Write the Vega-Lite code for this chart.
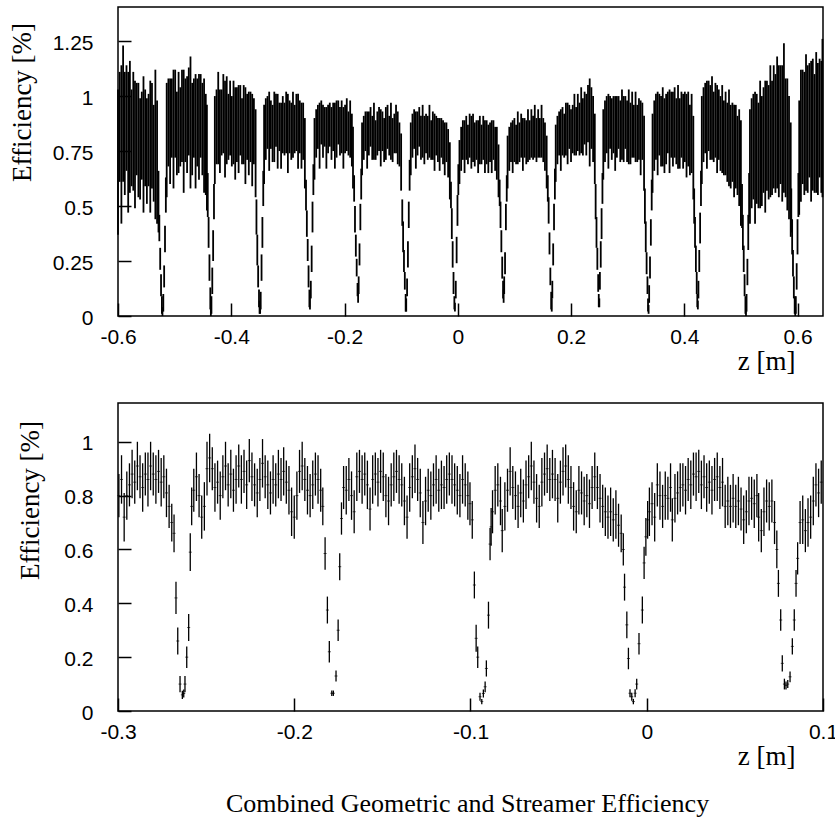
{
"$schema":"https://vega.github.io/schema/vega-lite/v6.json",
"padding":{"left":7,"top":6,"right":5,"bottom":5},
"background":"white",
"bounds":"flush",
"spacing":87,
"config":{
"locale":{"number":{"decimal":".","thousands":",","grouping":[3],"currency":["$",""],"minus":"-"}},
"view":{"stroke":"black","strokeWidth":1.5},
"axis":{"domain":false,"grid":false,"tickColor":"black","tickSize":-13,"tickWidth":1.5,"labelFont":"Liberation Sans","labelFontSize":21,"labelColor":"black","labelFlush":false,"labelOverlap":false,"titleFont":"Liberation Serif","titleFontSize":27,"titleFontWeight":"normal","titleColor":"black"}
},
"title":{"text":"Combined Geometric and Streamer Efficiency","orient":"bottom","anchor":"middle","frame":"group","dx":-3,"font":"Liberation Serif","fontSize":26,"fontWeight":"normal","offset":21,"color":"black"},
"datasets":{
"top":[
{"z":-0.600,"e":0.70,"d":0.33},{"z":-0.597,"e":0.86,"d":0.25},{"z":-0.594,"e":0.78,"d":0.36},{"z":-0.591,"e":0.92,"d":0.31},{"z":-0.588,"e":0.83,"d":0.28},{"z":-0.585,"e":0.90,"d":0.24},{"z":-0.582,"e":0.79,"d":0.32},{"z":-0.579,"e":0.86,"d":0.30},{"z":-0.576,"e":0.81,"d":0.22},{"z":-0.573,"e":0.84,"d":0.27},{"z":-0.570,"e":0.78,"d":0.29},{"z":-0.567,"e":0.85,"d":0.21},{"z":-0.564,"e":0.80,"d":0.26},{"z":-0.561,"e":0.76,"d":0.23},{"z":-0.558,"e":0.82,"d":0.20},{"z":-0.555,"e":0.78,"d":0.31},{"z":-0.552,"e":0.81,"d":0.22},{"z":-0.549,"e":0.75,"d":0.24},{"z":-0.546,"e":0.80,"d":0.21},{"z":-0.543,"e":0.77,"d":0.30},{"z":-0.540,"e":0.82,"d":0.24},{"z":-0.537,"e":0.74,"d":0.22},{"z":-0.534,"e":0.78,"d":0.34},{"z":-0.531,"e":0.70,"d":0.28},
{"z":-0.5285,"e":0.52,"d":0.14},{"z":-0.527,"e":0.40,"d":0.06},{"z":-0.5255,"e":0.26,"d":0.05},{"z":-0.524,"e":0.14,"d":0.05},{"z":-0.5225,"e":0.05,"d":0.04},{"z":-0.5215,"e":0.02,"d":0.02},{"z":-0.520,"e":0.06,"d":0.04},{"z":-0.5185,"e":0.18,"d":0.05},{"z":-0.517,"e":0.35,"d":0.06},{"z":-0.5155,"e":0.55,"d":0.08},
{"z":-0.514,"e":0.80,"d":0.26},{"z":-0.511,"e":0.88,"d":0.20},{"z":-0.508,"e":0.84,"d":0.24},{"z":-0.505,"e":0.90,"d":0.18},{"z":-0.502,"e":0.85,"d":0.27},{"z":-0.499,"e":0.92,"d":0.20},{"z":-0.496,"e":0.83,"d":0.19},{"z":-0.493,"e":0.88,"d":0.23},{"z":-0.490,"e":0.86,"d":0.18},{"z":-0.487,"e":0.91,"d":0.21},{"z":-0.484,"e":0.84,"d":0.28},{"z":-0.481,"e":0.89,"d":0.19},{"z":-0.478,"e":0.87,"d":0.22},{"z":-0.475,"e":0.93,"d":0.20},{"z":-0.472,"e":0.88,"d":0.30},{"z":-0.469,"e":0.85,"d":0.21},{"z":-0.466,"e":0.90,"d":0.18},{"z":-0.463,"e":0.84,"d":0.26},{"z":-0.460,"e":0.88,"d":0.20},{"z":-0.457,"e":0.86,"d":0.24},{"z":-0.454,"e":0.91,"d":0.19},{"z":-0.451,"e":0.85,"d":0.21},{"z":-0.448,"e":0.82,"d":0.26},{"z":-0.445,"e":0.78,"d":0.23},{"z":-0.443,"e":0.72,"d":0.24},
{"z":-0.4415,"e":0.55,"d":0.10},{"z":-0.440,"e":0.38,"d":0.07},{"z":-0.4385,"e":0.22,"d":0.06},{"z":-0.437,"e":0.08,"d":0.05},{"z":-0.436,"e":0.02,"d":0.02},{"z":-0.435,"e":0.05,"d":0.04},{"z":-0.4335,"e":0.16,"d":0.06},{"z":-0.432,"e":0.32,"d":0.07},{"z":-0.4305,"e":0.52,"d":0.08},
{"z":-0.429,"e":0.80,"d":0.20},{"z":-0.426,"e":0.86,"d":0.17},{"z":-0.423,"e":0.90,"d":0.21},{"z":-0.420,"e":0.84,"d":0.19},{"z":-0.417,"e":0.88,"d":0.15},{"z":-0.414,"e":0.92,"d":0.18},{"z":-0.411,"e":0.85,"d":0.22},{"z":-0.408,"e":0.89,"d":0.20},{"z":-0.405,"e":0.86,"d":0.15},{"z":-0.402,"e":0.90,"d":0.17},{"z":-0.399,"e":0.84,"d":0.16},{"z":-0.396,"e":0.88,"d":0.19},{"z":-0.393,"e":0.83,"d":0.21},{"z":-0.390,"e":0.87,"d":0.17},{"z":-0.387,"e":0.85,"d":0.20},{"z":-0.384,"e":0.89,"d":0.16},{"z":-0.381,"e":0.84,"d":0.15},{"z":-0.378,"e":0.87,"d":0.18},{"z":-0.375,"e":0.82,"d":0.22},{"z":-0.372,"e":0.86,"d":0.15},{"z":-0.369,"e":0.83,"d":0.19},{"z":-0.366,"e":0.86,"d":0.16},{"z":-0.363,"e":0.80,"d":0.21},{"z":-0.360,"e":0.84,"d":0.15},{"z":-0.357,"e":0.74,"d":0.20},
{"z":-0.3555,"e":0.45,"d":0.08},{"z":-0.354,"e":0.30,"d":0.07},{"z":-0.3525,"e":0.18,"d":0.05},{"z":-0.351,"e":0.08,"d":0.04},{"z":-0.350,"e":0.04,"d":0.03},{"z":-0.349,"e":0.03,"d":0.02},{"z":-0.348,"e":0.07,"d":0.04},{"z":-0.3465,"e":0.22,"d":0.06},{"z":-0.345,"e":0.38,"d":0.07},{"z":-0.3435,"e":0.58,"d":0.08},
{"z":-0.342,"e":0.78,"d":0.18},{"z":-0.339,"e":0.85,"d":0.14},{"z":-0.336,"e":0.88,"d":0.12},{"z":-0.333,"e":0.84,"d":0.18},{"z":-0.330,"e":0.87,"d":0.11},{"z":-0.327,"e":0.83,"d":0.13},{"z":-0.324,"e":0.86,"d":0.16},{"z":-0.321,"e":0.89,"d":0.12},{"z":-0.318,"e":0.84,"d":0.17},{"z":-0.315,"e":0.86,"d":0.11},{"z":-0.312,"e":0.82,"d":0.15},{"z":-0.309,"e":0.87,"d":0.13},{"z":-0.306,"e":0.85,"d":0.12},{"z":-0.303,"e":0.88,"d":0.14},{"z":-0.300,"e":0.83,"d":0.18},{"z":-0.297,"e":0.86,"d":0.12},{"z":-0.294,"e":0.84,"d":0.13},{"z":-0.291,"e":0.87,"d":0.15},{"z":-0.288,"e":0.85,"d":0.11},{"z":-0.285,"e":0.88,"d":0.13},{"z":-0.282,"e":0.84,"d":0.17},{"z":-0.279,"e":0.86,"d":0.12},{"z":-0.276,"e":0.82,"d":0.15},{"z":-0.273,"e":0.84,"d":0.13},{"z":-0.270,"e":0.74,"d":0.16},
{"z":-0.268,"e":0.55,"d":0.07},{"z":-0.2665,"e":0.42,"d":0.06},{"z":-0.265,"e":0.30,"d":0.05},{"z":-0.2635,"e":0.18,"d":0.05},{"z":-0.262,"e":0.08,"d":0.04},{"z":-0.261,"e":0.06,"d":0.03},{"z":-0.2595,"e":0.12,"d":0.04},{"z":-0.258,"e":0.26,"d":0.06},{"z":-0.2565,"e":0.45,"d":0.07},{"z":-0.255,"e":0.62,"d":0.07},
{"z":-0.253,"e":0.76,"d":0.14},{"z":-0.250,"e":0.83,"d":0.11},{"z":-0.247,"e":0.86,"d":0.10},{"z":-0.244,"e":0.82,"d":0.15},{"z":-0.241,"e":0.88,"d":0.10},{"z":-0.238,"e":0.84,"d":0.12},{"z":-0.235,"e":0.86,"d":0.09},{"z":-0.232,"e":0.81,"d":0.14},{"z":-0.229,"e":0.85,"d":0.11},{"z":-0.226,"e":0.87,"d":0.10},{"z":-0.223,"e":0.83,"d":0.12},{"z":-0.220,"e":0.86,"d":0.11},{"z":-0.217,"e":0.82,"d":0.15},{"z":-0.214,"e":0.85,"d":0.13},{"z":-0.211,"e":0.88,"d":0.10},{"z":-0.208,"e":0.84,"d":0.11},{"z":-0.205,"e":0.86,"d":0.12},{"z":-0.202,"e":0.81,"d":0.14},{"z":-0.199,"e":0.85,"d":0.11},{"z":-0.196,"e":0.87,"d":0.12},{"z":-0.193,"e":0.83,"d":0.10},{"z":-0.190,"e":0.85,"d":0.13},{"z":-0.187,"e":0.80,"d":0.12},{"z":-0.185,"e":0.72,"d":0.14},
{"z":-0.183,"e":0.58,"d":0.06},{"z":-0.1815,"e":0.44,"d":0.06},{"z":-0.180,"e":0.32,"d":0.05},{"z":-0.1785,"e":0.22,"d":0.04},{"z":-0.177,"e":0.12,"d":0.03},{"z":-0.176,"e":0.08,"d":0.02},{"z":-0.175,"e":0.14,"d":0.04},{"z":-0.1735,"e":0.28,"d":0.05},{"z":-0.172,"e":0.45,"d":0.06},{"z":-0.1705,"e":0.60,"d":0.07},
{"z":-0.169,"e":0.76,"d":0.12},{"z":-0.166,"e":0.81,"d":0.10},{"z":-0.163,"e":0.84,"d":0.09},{"z":-0.160,"e":0.80,"d":0.13},{"z":-0.157,"e":0.83,"d":0.10},{"z":-0.154,"e":0.86,"d":0.09},{"z":-0.151,"e":0.81,"d":0.10},{"z":-0.148,"e":0.84,"d":0.13},{"z":-0.145,"e":0.80,"d":0.09},{"z":-0.142,"e":0.83,"d":0.10},{"z":-0.139,"e":0.85,"d":0.10},{"z":-0.136,"e":0.81,"d":0.13},{"z":-0.133,"e":0.84,"d":0.09},{"z":-0.130,"e":0.80,"d":0.10},{"z":-0.127,"e":0.83,"d":0.12},{"z":-0.124,"e":0.86,"d":0.10},{"z":-0.121,"e":0.82,"d":0.09},{"z":-0.118,"e":0.84,"d":0.13},{"z":-0.115,"e":0.80,"d":0.10},{"z":-0.112,"e":0.83,"d":0.09},{"z":-0.109,"e":0.85,"d":0.11},{"z":-0.106,"e":0.81,"d":0.12},{"z":-0.103,"e":0.78,"d":0.10},{"z":-0.100,"e":0.70,"d":0.13},
{"z":-0.098,"e":0.47,"d":0.06},{"z":-0.0965,"e":0.36,"d":0.07},{"z":-0.095,"e":0.25,"d":0.05},{"z":-0.0935,"e":0.16,"d":0.04},{"z":-0.092,"e":0.06,"d":0.04},{"z":-0.091,"e":0.05,"d":0.03},{"z":-0.0895,"e":0.13,"d":0.04},{"z":-0.088,"e":0.28,"d":0.06},{"z":-0.0865,"e":0.46,"d":0.06},{"z":-0.085,"e":0.64,"d":0.07},
{"z":-0.083,"e":0.76,"d":0.12},{"z":-0.080,"e":0.82,"d":0.10},{"z":-0.077,"e":0.85,"d":0.09},{"z":-0.074,"e":0.80,"d":0.13},{"z":-0.071,"e":0.83,"d":0.10},{"z":-0.068,"e":0.86,"d":0.09},{"z":-0.065,"e":0.81,"d":0.10},{"z":-0.062,"e":0.84,"d":0.12},{"z":-0.059,"e":0.80,"d":0.11},{"z":-0.056,"e":0.83,"d":0.09},{"z":-0.053,"e":0.81,"d":0.10},{"z":-0.050,"e":0.84,"d":0.12},{"z":-0.047,"e":0.80,"d":0.09},{"z":-0.044,"e":0.82,"d":0.11},{"z":-0.041,"e":0.79,"d":0.13},{"z":-0.038,"e":0.82,"d":0.09},{"z":-0.035,"e":0.80,"d":0.10},{"z":-0.032,"e":0.78,"d":0.12},{"z":-0.029,"e":0.81,"d":0.09},{"z":-0.026,"e":0.79,"d":0.10},{"z":-0.023,"e":0.76,"d":0.12},{"z":-0.020,"e":0.79,"d":0.09},{"z":-0.017,"e":0.74,"d":0.11},{"z":-0.014,"e":0.66,"d":0.13},
{"z":-0.012,"e":0.55,"d":0.06},{"z":-0.0105,"e":0.42,"d":0.07},{"z":-0.009,"e":0.28,"d":0.06},{"z":-0.0075,"e":0.15,"d":0.05},{"z":-0.006,"e":0.06,"d":0.03},{"z":-0.005,"e":0.04,"d":0.02},{"z":-0.0035,"e":0.12,"d":0.04},{"z":-0.002,"e":0.30,"d":0.06},{"z":-0.0005,"e":0.48,"d":0.07},{"z":0.001,"e":0.62,"d":0.07},
{"z":0.003,"e":0.70,"d":0.10},{"z":0.006,"e":0.76,"d":0.10},{"z":0.009,"e":0.80,"d":0.09},{"z":0.012,"e":0.77,"d":0.12},{"z":0.015,"e":0.81,"d":0.10},{"z":0.018,"e":0.78,"d":0.09},{"z":0.021,"e":0.82,"d":0.10},{"z":0.024,"e":0.79,"d":0.12},{"z":0.027,"e":0.81,"d":0.11},{"z":0.030,"e":0.78,"d":0.10},{"z":0.033,"e":0.80,"d":0.09},{"z":0.036,"e":0.77,"d":0.12},{"z":0.039,"e":0.80,"d":0.11},{"z":0.042,"e":0.78,"d":0.09},{"z":0.045,"e":0.81,"d":0.10},{"z":0.048,"e":0.77,"d":0.12},{"z":0.051,"e":0.79,"d":0.10},{"z":0.054,"e":0.76,"d":0.11},{"z":0.057,"e":0.79,"d":0.09},{"z":0.060,"e":0.77,"d":0.12},{"z":0.063,"e":0.80,"d":0.09},{"z":0.066,"e":0.76,"d":0.10},{"z":0.069,"e":0.74,"d":0.12},{"z":0.072,"e":0.66,"d":0.12},
{"z":0.074,"e":0.56,"d":0.06},{"z":0.0755,"e":0.46,"d":0.06},{"z":0.077,"e":0.34,"d":0.05},{"z":0.0785,"e":0.22,"d":0.05},{"z":0.080,"e":0.12,"d":0.04},{"z":0.081,"e":0.09,"d":0.03},{"z":0.082,"e":0.14,"d":0.04},{"z":0.0835,"e":0.24,"d":0.05},{"z":0.085,"e":0.45,"d":0.06},{"z":0.0865,"e":0.58,"d":0.06},
{"z":0.088,"e":0.70,"d":0.12},{"z":0.091,"e":0.76,"d":0.10},{"z":0.094,"e":0.79,"d":0.09},{"z":0.097,"e":0.77,"d":0.12},{"z":0.100,"e":0.80,"d":0.10},{"z":0.103,"e":0.78,"d":0.09},{"z":0.106,"e":0.81,"d":0.12},{"z":0.109,"e":0.79,"d":0.09},{"z":0.112,"e":0.82,"d":0.10},{"z":0.115,"e":0.78,"d":0.12},{"z":0.118,"e":0.81,"d":0.09},{"z":0.121,"e":0.79,"d":0.10},{"z":0.124,"e":0.82,"d":0.12},{"z":0.127,"e":0.80,"d":0.09},{"z":0.130,"e":0.83,"d":0.11},{"z":0.133,"e":0.81,"d":0.10},{"z":0.136,"e":0.84,"d":0.12},{"z":0.139,"e":0.80,"d":0.10},{"z":0.142,"e":0.83,"d":0.11},{"z":0.145,"e":0.81,"d":0.09},{"z":0.148,"e":0.84,"d":0.12},{"z":0.151,"e":0.80,"d":0.10},{"z":0.154,"e":0.77,"d":0.11},{"z":0.157,"e":0.70,"d":0.12},
{"z":0.159,"e":0.58,"d":0.06},{"z":0.1605,"e":0.48,"d":0.06},{"z":0.162,"e":0.33,"d":0.05},{"z":0.1635,"e":0.18,"d":0.04},{"z":0.165,"e":0.07,"d":0.04},{"z":0.166,"e":0.05,"d":0.03},{"z":0.167,"e":0.12,"d":0.04},{"z":0.1685,"e":0.28,"d":0.05},{"z":0.170,"e":0.45,"d":0.06},{"z":0.1715,"e":0.60,"d":0.07},
{"z":0.173,"e":0.74,"d":0.13},{"z":0.176,"e":0.80,"d":0.11},{"z":0.179,"e":0.83,"d":0.10},{"z":0.182,"e":0.80,"d":0.14},{"z":0.185,"e":0.84,"d":0.11},{"z":0.188,"e":0.82,"d":0.10},{"z":0.191,"e":0.85,"d":0.12},{"z":0.194,"e":0.83,"d":0.14},{"z":0.197,"e":0.86,"d":0.10},{"z":0.200,"e":0.82,"d":0.12},{"z":0.203,"e":0.85,"d":0.11},{"z":0.206,"e":0.87,"d":0.14},{"z":0.209,"e":0.84,"d":0.11},{"z":0.212,"e":0.88,"d":0.13},{"z":0.215,"e":0.85,"d":0.12},{"z":0.218,"e":0.89,"d":0.15},{"z":0.221,"e":0.86,"d":0.13},{"z":0.224,"e":0.90,"d":0.12},{"z":0.227,"e":0.87,"d":0.14},{"z":0.230,"e":0.92,"d":0.13},{"z":0.233,"e":0.88,"d":0.20},{"z":0.236,"e":0.90,"d":0.14},{"z":0.239,"e":0.85,"d":0.15},{"z":0.242,"e":0.76,"d":0.16},
{"z":0.2435,"e":0.52,"d":0.08},{"z":0.245,"e":0.38,"d":0.07},{"z":0.2465,"e":0.26,"d":0.05},{"z":0.248,"e":0.15,"d":0.04},{"z":0.249,"e":0.07,"d":0.03},{"z":0.250,"e":0.06,"d":0.02},{"z":0.251,"e":0.16,"d":0.04},{"z":0.2525,"e":0.28,"d":0.06},{"z":0.254,"e":0.42,"d":0.07},{"z":0.2555,"e":0.58,"d":0.07},
{"z":0.257,"e":0.78,"d":0.16},{"z":0.260,"e":0.84,"d":0.14},{"z":0.263,"e":0.87,"d":0.13},{"z":0.266,"e":0.84,"d":0.17},{"z":0.269,"e":0.88,"d":0.12},{"z":0.272,"e":0.85,"d":0.14},{"z":0.275,"e":0.87,"d":0.13},{"z":0.278,"e":0.83,"d":0.17},{"z":0.281,"e":0.86,"d":0.14},{"z":0.284,"e":0.88,"d":0.12},{"z":0.287,"e":0.84,"d":0.14},{"z":0.290,"e":0.87,"d":0.16},{"z":0.293,"e":0.85,"d":0.15},{"z":0.296,"e":0.88,"d":0.12},{"z":0.299,"e":0.84,"d":0.14},{"z":0.302,"e":0.86,"d":0.17},{"z":0.305,"e":0.83,"d":0.14},{"z":0.308,"e":0.87,"d":0.15},{"z":0.311,"e":0.84,"d":0.12},{"z":0.314,"e":0.86,"d":0.16},{"z":0.317,"e":0.83,"d":0.13},{"z":0.320,"e":0.85,"d":0.14},{"z":0.323,"e":0.81,"d":0.17},{"z":0.326,"e":0.84,"d":0.13},{"z":0.329,"e":0.74,"d":0.17},
{"z":0.3305,"e":0.50,"d":0.08},{"z":0.332,"e":0.36,"d":0.07},{"z":0.3335,"e":0.24,"d":0.05},{"z":0.335,"e":0.14,"d":0.04},{"z":0.336,"e":0.05,"d":0.03},{"z":0.337,"e":0.03,"d":0.02},{"z":0.338,"e":0.10,"d":0.04},{"z":0.3395,"e":0.22,"d":0.05},{"z":0.341,"e":0.38,"d":0.06},{"z":0.3425,"e":0.55,"d":0.07},
{"z":0.344,"e":0.74,"d":0.18},{"z":0.347,"e":0.82,"d":0.16},{"z":0.350,"e":0.86,"d":0.15},{"z":0.353,"e":0.83,"d":0.19},{"z":0.356,"e":0.87,"d":0.14},{"z":0.359,"e":0.84,"d":0.16},{"z":0.362,"e":0.86,"d":0.18},{"z":0.365,"e":0.82,"d":0.17},{"z":0.368,"e":0.85,"d":0.16},{"z":0.371,"e":0.88,"d":0.14},{"z":0.374,"e":0.84,"d":0.19},{"z":0.377,"e":0.87,"d":0.15},{"z":0.380,"e":0.85,"d":0.17},{"z":0.383,"e":0.88,"d":0.16},{"z":0.386,"e":0.84,"d":0.15},{"z":0.389,"e":0.86,"d":0.19},{"z":0.392,"e":0.83,"d":0.16},{"z":0.395,"e":0.87,"d":0.15},{"z":0.398,"e":0.84,"d":0.17},{"z":0.401,"e":0.86,"d":0.16},{"z":0.404,"e":0.82,"d":0.19},{"z":0.407,"e":0.85,"d":0.17},{"z":0.410,"e":0.80,"d":0.16},{"z":0.413,"e":0.83,"d":0.18},{"z":0.416,"e":0.72,"d":0.19},
{"z":0.4175,"e":0.50,"d":0.08},{"z":0.419,"e":0.38,"d":0.07},{"z":0.4205,"e":0.26,"d":0.06},{"z":0.422,"e":0.15,"d":0.05},{"z":0.423,"e":0.07,"d":0.03},{"z":0.424,"e":0.05,"d":0.02},{"z":0.425,"e":0.12,"d":0.04},{"z":0.4265,"e":0.25,"d":0.05},{"z":0.428,"e":0.40,"d":0.07},{"z":0.4295,"e":0.58,"d":0.08},
{"z":0.431,"e":0.80,"d":0.20},{"z":0.434,"e":0.87,"d":0.17},{"z":0.437,"e":0.90,"d":0.16},{"z":0.440,"e":0.87,"d":0.20},{"z":0.443,"e":0.91,"d":0.16},{"z":0.446,"e":0.88,"d":0.17},{"z":0.449,"e":0.90,"d":0.19},{"z":0.452,"e":0.86,"d":0.16},{"z":0.455,"e":0.89,"d":0.17},{"z":0.458,"e":0.85,"d":0.20},{"z":0.461,"e":0.87,"d":0.16},{"z":0.464,"e":0.83,"d":0.17},{"z":0.467,"e":0.85,"d":0.20},{"z":0.470,"e":0.81,"d":0.17},{"z":0.473,"e":0.83,"d":0.19},{"z":0.476,"e":0.79,"d":0.18},{"z":0.479,"e":0.81,"d":0.22},{"z":0.482,"e":0.77,"d":0.19},{"z":0.485,"e":0.79,"d":0.18},{"z":0.488,"e":0.75,"d":0.21},{"z":0.491,"e":0.77,"d":0.19},{"z":0.494,"e":0.73,"d":0.18},{"z":0.497,"e":0.72,"d":0.22},{"z":0.500,"e":0.65,"d":0.24},
{"z":0.502,"e":0.50,"d":0.10},{"z":0.5035,"e":0.38,"d":0.08},{"z":0.505,"e":0.26,"d":0.06},{"z":0.5065,"e":0.14,"d":0.05},{"z":0.508,"e":0.05,"d":0.04},{"z":0.509,"e":0.02,"d":0.02},{"z":0.510,"e":0.06,"d":0.04},{"z":0.5115,"e":0.20,"d":0.06},{"z":0.513,"e":0.38,"d":0.08},{"z":0.5145,"e":0.55,"d":0.10},
{"z":0.516,"e":0.68,"d":0.26},{"z":0.519,"e":0.74,"d":0.25},{"z":0.522,"e":0.77,"d":0.24},{"z":0.525,"e":0.72,"d":0.30},{"z":0.528,"e":0.76,"d":0.25},{"z":0.531,"e":0.73,"d":0.24},{"z":0.534,"e":0.78,"d":0.29},{"z":0.537,"e":0.75,"d":0.25},{"z":0.540,"e":0.80,"d":0.24},{"z":0.543,"e":0.77,"d":0.30},{"z":0.546,"e":0.82,"d":0.25},{"z":0.549,"e":0.79,"d":0.26},{"z":0.552,"e":0.84,"d":0.30},{"z":0.555,"e":0.81,"d":0.26},{"z":0.558,"e":0.86,"d":0.28},{"z":0.561,"e":0.83,"d":0.27},{"z":0.564,"e":0.88,"d":0.30},{"z":0.567,"e":0.84,"d":0.30},{"z":0.570,"e":0.87,"d":0.27},{"z":0.573,"e":0.83,"d":0.31},{"z":0.576,"e":0.90,"d":0.34},{"z":0.579,"e":0.81,"d":0.27},{"z":0.582,"e":0.78,"d":0.30},{"z":0.585,"e":0.72,"d":0.28},{"z":0.588,"e":0.62,"d":0.26},
{"z":0.589,"e":0.48,"d":0.10},{"z":0.5905,"e":0.36,"d":0.08},{"z":0.592,"e":0.24,"d":0.06},{"z":0.5935,"e":0.13,"d":0.05},{"z":0.595,"e":0.05,"d":0.04},{"z":0.596,"e":0.02,"d":0.02},{"z":0.597,"e":0.05,"d":0.04},{"z":0.5985,"e":0.18,"d":0.06},{"z":0.600,"e":0.36,"d":0.08},{"z":0.6015,"e":0.55,"d":0.10},
{"z":0.603,"e":0.72,"d":0.26},{"z":0.606,"e":0.82,"d":0.30},{"z":0.609,"e":0.86,"d":0.26},{"z":0.612,"e":0.83,"d":0.28},{"z":0.615,"e":0.88,"d":0.31},{"z":0.618,"e":0.85,"d":0.29},{"z":0.621,"e":0.89,"d":0.26},{"z":0.624,"e":0.84,"d":0.32},{"z":0.627,"e":0.87,"d":0.30},{"z":0.630,"e":0.83,"d":0.27},{"z":0.633,"e":0.88,"d":0.32},{"z":0.636,"e":0.85,"d":0.30},{"z":0.639,"e":0.90,"d":0.27},{"z":0.642,"e":0.86,"d":0.30},{"z":0.644,"e":0.90,"d":0.36}
],
"bottom":[
{"z":-0.2995,"e":0.80,"d":0.08},{"z":-0.298,"e":0.86,"d":0.09},{"z":-0.2965,"e":0.72,"d":0.09},{"z":-0.295,"e":0.80,"d":0.09},{"z":-0.2935,"e":0.84,"d":0.08},{"z":-0.292,"e":0.88,"d":0.09},{"z":-0.2905,"e":0.85,"d":0.08},{"z":-0.289,"e":0.91,"d":0.09},{"z":-0.2875,"e":0.87,"d":0.08},{"z":-0.286,"e":0.83,"d":0.09},{"z":-0.2845,"e":0.88,"d":0.08},{"z":-0.283,"e":0.86,"d":0.10},{"z":-0.2815,"e":0.91,"d":0.09},{"z":-0.280,"e":0.88,"d":0.08},{"z":-0.2785,"e":0.86,"d":0.09},{"z":-0.277,"e":0.89,"d":0.08},{"z":-0.2755,"e":0.85,"d":0.09},{"z":-0.274,"e":0.87,"d":0.08},{"z":-0.2725,"e":0.81,"d":0.09},{"z":-0.271,"e":0.76,"d":0.08},{"z":-0.2695,"e":0.70,"d":0.07},
{"z":-0.2682,"e":0.66,"d":0.07},{"z":-0.2671,"e":0.42,"d":0.06},{"z":-0.2661,"e":0.26,"d":0.05},{"z":-0.2648,"e":0.10,"d":0.03},{"z":-0.2635,"e":0.06,"d":0.015},{"z":-0.2627,"e":0.065,"d":0.015},{"z":-0.262,"e":0.10,"d":0.03},{"z":-0.261,"e":0.20,"d":0.04},{"z":-0.2599,"e":0.31,"d":0.05},{"z":-0.259,"e":0.59,"d":0.07},{"z":-0.2582,"e":0.76,"d":0.07},
{"z":-0.257,"e":0.82,"d":0.08},{"z":-0.2555,"e":0.87,"d":0.09},{"z":-0.254,"e":0.80,"d":0.08},{"z":-0.2525,"e":0.72,"d":0.08},{"z":-0.251,"e":0.76,"d":0.09},{"z":-0.2495,"e":0.90,"d":0.10},{"z":-0.248,"e":0.94,"d":0.09},{"z":-0.2465,"e":0.90,"d":0.08},{"z":-0.245,"e":0.83,"d":0.09},{"z":-0.2435,"e":0.85,"d":0.08},{"z":-0.242,"e":0.80,"d":0.09},{"z":-0.2405,"e":0.87,"d":0.08},{"z":-0.239,"e":0.91,"d":0.09},{"z":-0.2375,"e":0.84,"d":0.08},{"z":-0.236,"e":0.88,"d":0.09},{"z":-0.2345,"e":0.82,"d":0.08},{"z":-0.233,"e":0.86,"d":0.09},{"z":-0.2315,"e":0.91,"d":0.08},{"z":-0.230,"e":0.86,"d":0.09},{"z":-0.2285,"e":0.89,"d":0.08},{"z":-0.227,"e":0.84,"d":0.09},{"z":-0.2255,"e":0.93,"d":0.08},{"z":-0.224,"e":0.87,"d":0.09},{"z":-0.2225,"e":0.84,"d":0.08},{"z":-0.221,"e":0.81,"d":0.09},{"z":-0.2195,"e":0.86,"d":0.08},{"z":-0.218,"e":0.92,"d":0.09},{"z":-0.2165,"e":0.87,"d":0.08},{"z":-0.215,"e":0.84,"d":0.09},{"z":-0.2135,"e":0.81,"d":0.08},{"z":-0.212,"e":0.86,"d":0.09},{"z":-0.2105,"e":0.84,"d":0.08},{"z":-0.209,"e":0.88,"d":0.09},{"z":-0.2075,"e":0.86,"d":0.08},{"z":-0.206,"e":0.89,"d":0.09},{"z":-0.2045,"e":0.85,"d":0.08},{"z":-0.203,"e":0.82,"d":0.09},{"z":-0.2015,"e":0.74,"d":0.09},{"z":-0.200,"e":0.72,"d":0.08},{"z":-0.1985,"e":0.80,"d":0.09},{"z":-0.197,"e":0.89,"d":0.08},{"z":-0.1955,"e":0.91,"d":0.09},{"z":-0.194,"e":0.86,"d":0.08},{"z":-0.1925,"e":0.82,"d":0.09},{"z":-0.191,"e":0.80,"d":0.08},{"z":-0.1895,"e":0.84,"d":0.09},{"z":-0.188,"e":0.88,"d":0.08},{"z":-0.1865,"e":0.86,"d":0.09},{"z":-0.185,"e":0.82,"d":0.08},{"z":-0.1838,"e":0.76,"d":0.07},
{"z":-0.1825,"e":0.585,"d":0.06},{"z":-0.1812,"e":0.375,"d":0.05},{"z":-0.1801,"e":0.22,"d":0.04},{"z":-0.1787,"e":0.066,"d":0.01},{"z":-0.1778,"e":0.066,"d":0.01},{"z":-0.1763,"e":0.13,"d":0.02},{"z":-0.1751,"e":0.30,"d":0.04},{"z":-0.1742,"e":0.536,"d":0.05},{"z":-0.1732,"e":0.715,"d":0.06},
{"z":-0.172,"e":0.83,"d":0.08},{"z":-0.1705,"e":0.82,"d":0.09},{"z":-0.169,"e":0.86,"d":0.08},{"z":-0.1675,"e":0.80,"d":0.09},{"z":-0.166,"e":0.74,"d":0.08},{"z":-0.1645,"e":0.87,"d":0.09},{"z":-0.163,"e":0.89,"d":0.08},{"z":-0.1615,"e":0.86,"d":0.09},{"z":-0.160,"e":0.88,"d":0.08},{"z":-0.1585,"e":0.84,"d":0.09},{"z":-0.157,"e":0.75,"d":0.08},{"z":-0.1555,"e":0.86,"d":0.09},{"z":-0.154,"e":0.88,"d":0.08},{"z":-0.1525,"e":0.85,"d":0.09},{"z":-0.151,"e":0.89,"d":0.08},{"z":-0.1495,"e":0.87,"d":0.09},{"z":-0.148,"e":0.80,"d":0.08},{"z":-0.1465,"e":0.78,"d":0.09},{"z":-0.145,"e":0.84,"d":0.08},{"z":-0.1435,"e":0.87,"d":0.09},{"z":-0.142,"e":0.89,"d":0.08},{"z":-0.1405,"e":0.86,"d":0.09},{"z":-0.139,"e":0.84,"d":0.08},{"z":-0.1375,"e":0.78,"d":0.09},{"z":-0.136,"e":0.72,"d":0.08},{"z":-0.1345,"e":0.83,"d":0.09},{"z":-0.133,"e":0.87,"d":0.08},{"z":-0.1315,"e":0.90,"d":0.09},{"z":-0.130,"e":0.86,"d":0.08},{"z":-0.1285,"e":0.81,"d":0.09},{"z":-0.127,"e":0.70,"d":0.08},{"z":-0.1255,"e":0.78,"d":0.09},{"z":-0.124,"e":0.82,"d":0.08},{"z":-0.1225,"e":0.80,"d":0.09},{"z":-0.121,"e":0.84,"d":0.08},{"z":-0.1195,"e":0.86,"d":0.09},{"z":-0.118,"e":0.82,"d":0.08},{"z":-0.1165,"e":0.84,"d":0.09},{"z":-0.115,"e":0.83,"d":0.08},{"z":-0.1135,"e":0.86,"d":0.09},{"z":-0.112,"e":0.88,"d":0.08},{"z":-0.1105,"e":0.86,"d":0.09},{"z":-0.109,"e":0.84,"d":0.08},{"z":-0.1075,"e":0.82,"d":0.09},{"z":-0.106,"e":0.80,"d":0.08},{"z":-0.1045,"e":0.86,"d":0.09},{"z":-0.103,"e":0.84,"d":0.08},{"z":-0.1015,"e":0.80,"d":0.09},{"z":-0.1003,"e":0.77,"d":0.08},{"z":-0.099,"e":0.71,"d":0.07},
{"z":-0.0978,"e":0.468,"d":0.05},{"z":-0.0968,"e":0.27,"d":0.05},{"z":-0.0959,"e":0.20,"d":0.04},{"z":-0.0946,"e":0.053,"d":0.015},{"z":-0.0936,"e":0.035,"d":0.01},{"z":-0.0927,"e":0.065,"d":0.015},{"z":-0.0917,"e":0.09,"d":0.02},{"z":-0.091,"e":0.158,"d":0.03},{"z":-0.0898,"e":0.356,"d":0.05},{"z":-0.0889,"e":0.62,"d":0.06},{"z":-0.0883,"e":0.684,"d":0.07},
{"z":-0.0875,"e":0.74,"d":0.08},{"z":-0.086,"e":0.82,"d":0.09},{"z":-0.0845,"e":0.84,"d":0.08},{"z":-0.083,"e":0.78,"d":0.09},{"z":-0.082,"e":0.67,"d":0.08},{"z":-0.0805,"e":0.76,"d":0.09},{"z":-0.079,"e":0.82,"d":0.08},{"z":-0.0775,"e":0.89,"d":0.09},{"z":-0.076,"e":0.83,"d":0.08},{"z":-0.0745,"e":0.80,"d":0.09},{"z":-0.073,"e":0.76,"d":0.08},{"z":-0.0715,"e":0.81,"d":0.09},{"z":-0.070,"e":0.78,"d":0.08},{"z":-0.0685,"e":0.84,"d":0.09},{"z":-0.067,"e":0.87,"d":0.08},{"z":-0.0655,"e":0.91,"d":0.09},{"z":-0.064,"e":0.85,"d":0.08},{"z":-0.0625,"e":0.79,"d":0.09},{"z":-0.061,"e":0.76,"d":0.08},{"z":-0.0595,"e":0.85,"d":0.09},{"z":-0.058,"e":0.88,"d":0.08},{"z":-0.0565,"e":0.90,"d":0.09},{"z":-0.055,"e":0.86,"d":0.08},{"z":-0.0535,"e":0.88,"d":0.09},{"z":-0.052,"e":0.86,"d":0.08},{"z":-0.0505,"e":0.79,"d":0.09},{"z":-0.049,"e":0.85,"d":0.08},{"z":-0.0475,"e":0.89,"d":0.09},{"z":-0.046,"e":0.91,"d":0.08},{"z":-0.0445,"e":0.86,"d":0.09},{"z":-0.043,"e":0.83,"d":0.08},{"z":-0.0415,"e":0.76,"d":0.09},{"z":-0.040,"e":0.74,"d":0.08},{"z":-0.0385,"e":0.82,"d":0.09},{"z":-0.037,"e":0.81,"d":0.08},{"z":-0.0355,"e":0.78,"d":0.09},{"z":-0.034,"e":0.80,"d":0.08},{"z":-0.0325,"e":0.77,"d":0.09},{"z":-0.031,"e":0.83,"d":0.08},{"z":-0.0295,"e":0.87,"d":0.09},{"z":-0.028,"e":0.83,"d":0.08},{"z":-0.0265,"e":0.79,"d":0.09},{"z":-0.025,"e":0.76,"d":0.08},{"z":-0.0235,"e":0.74,"d":0.09},{"z":-0.022,"e":0.72,"d":0.08},{"z":-0.0205,"e":0.74,"d":0.09},{"z":-0.019,"e":0.71,"d":0.08},{"z":-0.0175,"e":0.73,"d":0.09},{"z":-0.016,"e":0.69,"d":0.08},{"z":-0.0145,"e":0.66,"d":0.07},
{"z":-0.0133,"e":0.60,"d":0.06},{"z":-0.0126,"e":0.46,"d":0.05},{"z":-0.0113,"e":0.32,"d":0.05},{"z":-0.0104,"e":0.195,"d":0.04},{"z":-0.0095,"e":0.066,"d":0.015},{"z":-0.0085,"e":0.053,"d":0.015},{"z":-0.0076,"e":0.035,"d":0.01},{"z":-0.0066,"e":0.066,"d":0.015},{"z":-0.0057,"e":0.10,"d":0.02},{"z":-0.0044,"e":0.25,"d":0.04},{"z":-0.0025,"e":0.375,"d":0.05},{"z":-0.0015,"e":0.55,"d":0.06},{"z":-0.0005,"e":0.647,"d":0.07},{"z":0.0005,"e":0.71,"d":0.07},
{"z":0.0015,"e":0.74,"d":0.09},{"z":0.003,"e":0.77,"d":0.08},{"z":0.0045,"e":0.72,"d":0.09},{"z":0.006,"e":0.84,"d":0.08},{"z":0.0075,"e":0.80,"d":0.09},{"z":0.009,"e":0.76,"d":0.08},{"z":0.0105,"e":0.80,"d":0.09},{"z":0.012,"e":0.79,"d":0.08},{"z":0.0135,"e":0.83,"d":0.09},{"z":0.0145,"e":0.71,"d":0.08},{"z":0.016,"e":0.79,"d":0.09},{"z":0.0175,"e":0.81,"d":0.08},{"z":0.019,"e":0.83,"d":0.09},{"z":0.0205,"e":0.84,"d":0.08},{"z":0.022,"e":0.82,"d":0.09},{"z":0.0235,"e":0.86,"d":0.08},{"z":0.025,"e":0.84,"d":0.09},{"z":0.0265,"e":0.88,"d":0.08},{"z":0.028,"e":0.87,"d":0.09},{"z":0.0295,"e":0.89,"d":0.08},{"z":0.031,"e":0.84,"d":0.09},{"z":0.0325,"e":0.87,"d":0.08},{"z":0.034,"e":0.83,"d":0.09},{"z":0.0355,"e":0.85,"d":0.08},{"z":0.037,"e":0.82,"d":0.09},{"z":0.0385,"e":0.86,"d":0.08},{"z":0.040,"e":0.87,"d":0.09},{"z":0.0415,"e":0.83,"d":0.08},{"z":0.043,"e":0.85,"d":0.09},{"z":0.0445,"e":0.76,"d":0.08},{"z":0.046,"e":0.78,"d":0.09},{"z":0.0475,"e":0.76,"d":0.08},{"z":0.049,"e":0.79,"d":0.09},{"z":0.0505,"e":0.76,"d":0.08},{"z":0.052,"e":0.78,"d":0.09},{"z":0.0535,"e":0.75,"d":0.08},{"z":0.055,"e":0.71,"d":0.09},{"z":0.0565,"e":0.74,"d":0.08},{"z":0.058,"e":0.78,"d":0.09},{"z":0.0595,"e":0.79,"d":0.08},{"z":0.061,"e":0.77,"d":0.09},{"z":0.0625,"e":0.80,"d":0.08},{"z":0.0635,"e":0.72,"d":0.09},{"z":0.065,"e":0.67,"d":0.08},{"z":0.0665,"e":0.74,"d":0.09},{"z":0.068,"e":0.78,"d":0.08},{"z":0.0695,"e":0.76,"d":0.09},{"z":0.071,"e":0.78,"d":0.08},{"z":0.0725,"e":0.70,"d":0.08},{"z":0.0738,"e":0.60,"d":0.07},
{"z":0.0747,"e":0.474,"d":0.05},{"z":0.076,"e":0.338,"d":0.04},{"z":0.0769,"e":0.177,"d":0.03},{"z":0.0781,"e":0.10,"d":0.02},{"z":0.079,"e":0.095,"d":0.015},{"z":0.080,"e":0.10,"d":0.015},{"z":0.0813,"e":0.127,"d":0.02},{"z":0.0826,"e":0.24,"d":0.03},{"z":0.0837,"e":0.338,"d":0.04},{"z":0.0847,"e":0.474,"d":0.05},{"z":0.0856,"e":0.567,"d":0.06},
{"z":0.087,"e":0.70,"d":0.08},{"z":0.0885,"e":0.71,"d":0.09},{"z":0.090,"e":0.67,"d":0.08},{"z":0.0915,"e":0.70,"d":0.09},{"z":0.093,"e":0.72,"d":0.08},{"z":0.0945,"e":0.78,"d":0.09},{"z":0.096,"e":0.84,"d":0.08},{"z":0.0975,"e":0.81,"d":0.09},{"z":0.099,"e":0.85,"d":0.08}
]
},
"vconcat":[
{
"width":705,"height":309,
"data":{"name":"top"},
"mark":{"type":"errorbar","color":"black","thickness":1.8},
"encoding":{
"x":{"field":"z","type":"quantitative","scale":{"domain":[-0.6,0.645],"nice":false,"zero":false},"axis":{"values":[-0.6,-0.4,-0.2,0,0.2,0.4,0.6],"format":".1~f","title":"z [m]","labelPadding":23,"titleX":677,"titleY":53,"titleAlign":"right","titleBaseline":"alphabetic"}},
"y":{"field":"e","type":"quantitative","scale":{"domain":[0,1.405],"nice":false},"axis":{"values":[0,0.25,0.5,0.75,1,1.25],"format":".2~f","title":"Efficiency [%]","labelPadding":38,"labelOffset":2,"titleX":-96,"titleY":95,"titleAngle":-90,"titleAlign":"center","titleBaseline":"middle"}},
"yError":{"field":"d"}
}
},
{
"width":705,"height":308,
"data":{"name":"bottom"},
"encoding":{
"x":{"field":"z","type":"quantitative","scale":{"domain":[-0.3,0.1],"nice":false,"zero":false},"axis":{"values":[-0.3,-0.2,-0.1,0,0.1],"format":".1~f","title":"z [m]","labelPadding":23,"titleX":677,"titleY":53,"titleAlign":"right","titleBaseline":"alphabetic"}},
"y":{"field":"e","type":"quantitative","scale":{"domain":[0,1.144],"nice":false},"axis":{"values":[0,0.2,0.4,0.6,0.8,1],"format":".1~f","title":"Efficiency [%]","labelPadding":38,"labelOffset":2,"titleX":-88,"titleY":97,"titleAngle":-90,"titleAlign":"center","titleBaseline":"middle"}}
},
"layer":[
{"mark":{"type":"errorbar","color":"black","thickness":1.3},"encoding":{"yError":{"field":"d"}}},
{"mark":{"type":"tick","orient":"horizontal","size":3,"thickness":1,"color":"black"}}
]
}
]
}
